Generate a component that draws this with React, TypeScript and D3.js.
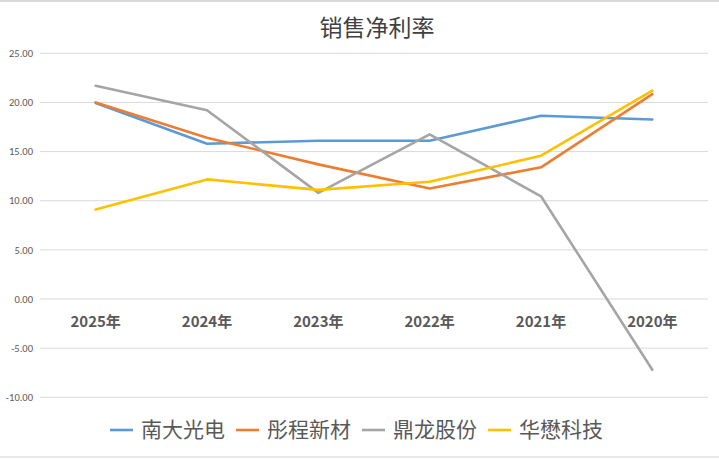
//@ts-nocheck
import * as d3 from "d3";
import { useEffect, useRef } from "react";

const title = "销售净利率";
const categories = ["2025年", "2024年", "2023年", "2022年", "2021年", "2020年"];
const seriesNames = ["南大光电", "彤程新材", "鼎龙股份", "华懋科技"];
const nandaValues = [19.95, 15.8, 16.1, 16.1, 18.65, 18.27];
const tongchengValues = [20.0, 16.4, 13.7, 11.25, 13.4, 20.85];
const dinglongValues = [21.7, 19.2, 10.8, 16.75, 10.45, -7.2];
const huamaoValues = [9.1, 12.17, 11.1, 11.93, 14.58, 21.2];
const yTicks = [-10, -5, 0, 5, 10, 15, 20, 25];
const colors = ["#5B9BD5", "#ED7D31", "#A5A5A5", "#FFC000"];

const W = 719;
const H = 460;

const drawChart = (ref: any) => {
  const svg = d3.select(ref).attr("width", W).attr("height", H);
  svg.selectAll("*").remove();

  svg.append("rect").attr("width", W).attr("height", H).attr("fill", "#fff");

  // faint sheet borders top and bottom
  svg.append("line").attr("x1", 0).attr("x2", W).attr("y1", 1).attr("y2", 1)
    .attr("stroke", "#d9d9d9").attr("stroke-width", 2);
  svg.append("line").attr("x1", 0).attr("x2", W).attr("y1", 457).attr("y2", 457)
    .attr("stroke", "#e0e0e0").attr("stroke-width", 1.5);

  const x = d3.scalePoint().domain(categories).range([40, 708]).padding(0.5);
  const y = d3.scaleLinear().domain([-10, 25]).range([397.3, 53.3]);

  // gridlines
  svg.append("g")
    .selectAll("line")
    .data(yTicks)
    .enter()
    .append("line")
    .attr("x1", 40)
    .attr("x2", 708)
    .attr("y1", d => y(d))
    .attr("y2", d => y(d))
    .attr("stroke", "#d9d9d9")
    .attr("stroke-width", 1);

  // y labels
  svg.append("g")
    .selectAll("text")
    .data(yTicks)
    .enter()
    .append("text")
    .attr("x", 33)
    .attr("y", d => y(d))
    .attr("dy", "0.35em")
    .attr("text-anchor", "end")
    .style("font-family", "Calibri, 'Liberation Sans', 'DejaVu Sans', sans-serif")
    .style("font-size", "10.5px")
    .attr("fill", "#595959")
    .text(d => d.toFixed(2));

  // category labels, sitting just under the zero line
  svg.append("g")
    .selectAll("text")
    .data(categories)
    .enter()
    .append("text")
    .attr("x", d => x(d))
    .attr("y", y(0) + 23)
    .attr("dy", "0.35em")
    .attr("text-anchor", "middle")
    .style("font-family", "'Noto Sans CJK SC', 'Open Sans', sans-serif")
    .style("font-size", "15px")
    .style("font-weight", "bold")
    .attr("fill", "#595959")
    .text(d => d);

  const allSeries = [nandaValues, tongchengValues, dinglongValues, huamaoValues];
  const line = d3.line()
    .x((d, i) => x(categories[i]))
    .y(d => y(d));

  allSeries.forEach((vals, k) => {
    svg.append("path")
      .datum(vals)
      .attr("d", line)
      .attr("fill", "none")
      .attr("stroke", colors[k])
      .attr("stroke-width", 2.6)
      .attr("stroke-linejoin", "round")
      .attr("stroke-linecap", "round");
  });

  // title
  svg.append("text")
    .attr("x", 377)
    .attr("y", 28)
    .attr("dy", "0.35em")
    .attr("text-anchor", "middle")
    .style("font-family", "'Noto Sans CJK SC', sans-serif")
    .style("font-size", "23px")
    .attr("fill", "#404040")
    .text(title);

  // legend
  const legendX = [110, 236, 362, 488];
  const legend = svg.append("g")
    .selectAll("g")
    .data(seriesNames)
    .enter()
    .append("g")
    .attr("transform", (d, i) => "translate(" + legendX[i] + ",430)");
  legend.append("line")
    .attr("x1", 0)
    .attr("x2", 23)
    .attr("stroke", (d, i) => colors[i])
    .attr("stroke-width", 2.6);
  legend.append("text")
    .attr("x", 31)
    .attr("dy", "0.35em")
    .style("font-family", "'Noto Sans CJK SC', sans-serif")
    .style("font-size", "21px")
    .attr("fill", "#595959")
    .text(d => d);
};

const App = () => {
  const chartRef = useRef(null);

  useEffect(() => {
    drawChart(chartRef.current);
  }, []);

  return (
    <div style={{ position: "absolute", left: 0, top: 0 }}>
      <svg ref={chartRef} style={{ display: "block" }}></svg>
    </div>
  );
};

export default App;
